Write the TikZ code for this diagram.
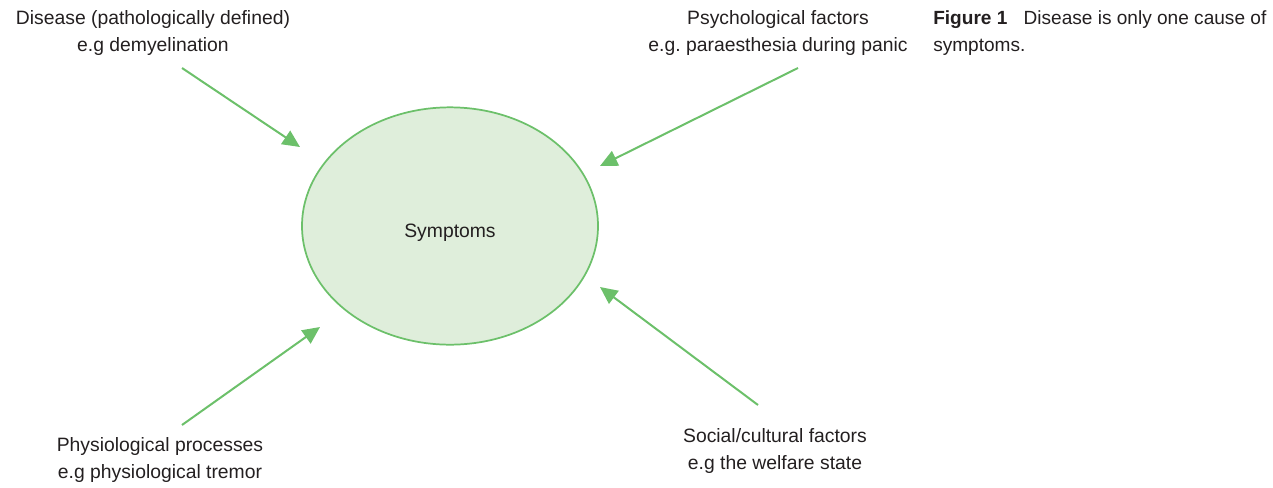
\documentclass[tikz,border=0pt]{standalone}
\usepackage{fontspec}
\setmainfont{Liberation Sans}
\frenchspacing
\definecolor{SymGreen}{HTML}{6CC06A}
\definecolor{SymFill}{HTML}{DFEEDB}
\definecolor{SymText}{HTML}{231F20}
\usetikzlibrary{arrows.meta,shapes.geometric}

\begin{document}
\begin{tikzpicture}[x=0.75pt,y=0.75pt,text=SymText,
    font=\fontsize{14.5}{20.25}\selectfont,
    cause/.style={align=center},
    feed/.style={draw=SymGreen,line width=1.5pt,-{Triangle[length=13pt,width=12pt]}}]
  \useasboundingbox (0,0) rectangle (1273,487);
  \node[ellipse,draw=SymGreen,line width=1.3pt,fill=SymFill,text height=20pt,
    minimum width=222pt,minimum height=178pt] (sym) at (450,261) {Symptoms};
  % causes
  \node[cause] (dis) at (153,454) {Disease (pathologically defined)\\e.g demyelination};
  \node[cause] (psy) at (778,454) {Psychological factors\\e.g. paraesthesia during panic};
  \node[cause] (phy) at (160,27) {Physiological processes\\e.g physiological tremor};
  \node[cause] (soc) at (775,36) {Social/cultural factors\\e.g the welfare state};
  \coordinate (dis0) at (182,419);  \coordinate (dis1) at (300,340);
  \coordinate (psy0) at (798,419);  \coordinate (psy1) at (600,321);
  \coordinate (phy0) at (182,62);   \coordinate (phy1) at (320,160);
  \coordinate (soc0) at (758,82);   \coordinate (soc1) at (600,200);
  \draw[feed] (dis0) -- (dis1);
  \draw[feed] (psy0) -- (psy1);
  \draw[feed] (phy0) -- (phy1);
  \draw[feed] (soc0) -- (soc1);
  \node[align=left,anchor=west,inner xsep=0pt,font=\fontsize{14.3}{20.25}\selectfont]
    (cap) at (933,454)
    {\textbf{Figure 1}\hspace{0.85em}Disease is only one cause of\\symptoms.};
\end{tikzpicture}
\end{document}
